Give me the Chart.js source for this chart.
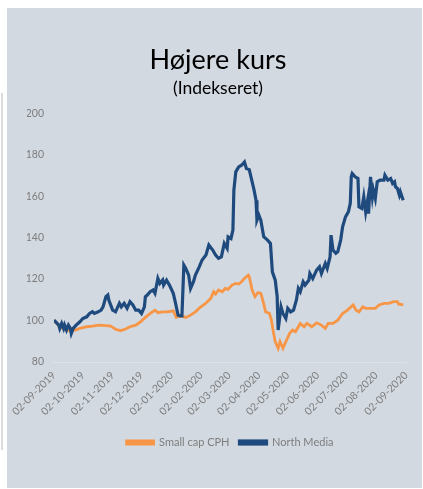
<!DOCTYPE html>
<html lang="da">
<head>
<meta charset="UTF-8">
<title>Højere kurs</title>
<script src="https://cdn.jsdelivr.net/npm/chart.js/dist/chart.umd.min.js"></script>
<style>
body { margin: 0; background: #ffffff; width: 423px; height: 489px; position: relative; overflow: hidden; }
.edge { position: absolute; left: 1px; top: 93px; width: 2px; height: 357px; background: #dcdcdc; }
.panel { position: absolute; left: 7px; top: 8px; width: 415px; height: 480px; background: #d3d9e1; }
canvas { display: block; }
</style>
</head>
<body>
<div class="edge"></div>
<div class="panel"><canvas id="kurs" width="415" height="480"></canvas></div>
<script>
// x = days since 02-09-2019
const tickDays = [0, 30, 61, 91, 122, 153, 182, 213, 243, 274, 304, 335, 366];
const tickLabels = ['02-09-2019', '02-10-2019', '02-11-2019', '02-12-2019', '02-01-2020', '02-02-2020',
  '02-03-2020', '02-04-2020', '02-05-2020', '02-06-2020', '02-07-2020', '02-08-2020', '02-09-2020'];

const smallCapDays = [0, 6, 13, 18, 22, 27, 34, 40, 47, 54, 59, 64, 69, 74, 79, 85, 90, 95, 100, 105,
  108, 113, 118, 124, 127, 132, 137, 142, 147, 152, 157, 163, 166, 168, 171, 175, 178, 181, 185, 189,
  192, 195, 198, 202, 203, 206, 209, 212, 215, 217, 220, 224, 226, 228, 230, 233, 235, 238, 241, 245,
  248, 251, 256, 260, 263, 268, 273, 278, 282, 285, 290, 295, 300, 305, 311, 314, 317, 321, 324, 329,
  334, 338, 343, 348, 353, 357, 358, 363];
const smallCapValues = [100.2, 97, 95.4, 95.1, 95.4, 96.2, 97, 97.3, 97.8, 97.5, 97.3, 95.8, 95.1, 95.8, 97, 97.8, 99.4, 101.5, 103.4, 105,
  103.8, 104.2, 104.2, 104.7, 101.5, 102.2, 101.5, 102.6, 104.2, 106.4, 108, 110.7, 113.9, 112.8, 114.7, 113.9, 115.5, 115, 117.1, 117.9,
  117.6, 118.7, 120.3, 121.9, 121.1, 114.7, 111.5, 113.5, 113.1, 109.9, 104.2, 103.4, 100.2, 94.6, 89.8, 86.6, 89.8, 86.6, 89.8, 93.8,
  95.4, 94.6, 98.6, 97, 98.6, 97, 98.9, 97.8, 96.2, 98.6, 98.6, 100.2, 103.4, 105, 107.5, 105, 104.2, 106.6, 105.9, 105.9,
  105.9, 107.5, 108.3, 108.3, 109.1, 109.1, 108, 107.5];

const northMediaDays = [0, 5, 6, 8, 10, 11, 13, 15, 17, 18, 20, 23, 27, 30, 34, 37, 40, 42, 46, 49,
  51, 54, 56, 57, 61, 64, 68, 70, 73, 76, 79, 82, 85, 88, 91, 94, 95, 97, 100, 103,
  105, 108, 110, 113, 114, 117, 120, 124, 126, 129, 131, 133, 135, 137, 140, 142, 145, 147, 151, 154,
  158, 161, 165, 168, 171, 174, 177, 180, 181, 184, 186, 187, 189, 192, 195, 198, 200, 203, 206, 208,
  210, 211, 213, 215, 218, 222, 225, 227, 230, 232, 233, 236, 238, 241, 243, 246, 249, 252, 254, 256,
  259, 261, 265, 266, 269, 273, 276, 278, 282, 284, 287, 288, 290, 293, 295, 298, 300, 303, 306, 308,
  309, 310, 313, 316, 317, 320, 322, 324, 326, 327, 329, 331, 332, 334, 336, 339, 343, 344, 347, 350,
  352, 354, 355, 357, 359, 360, 363];
const northMediaValues = [100.2, 97.8, 96.2, 98.6, 96.2, 97.8, 95.4, 97.8, 96.2, 93.8, 96.2, 97.8, 99.4, 101, 101.8, 103.4, 104.2, 103.4, 104.2, 105,
  106.6, 111.5, 112.3, 109.9, 105, 104.2, 108.3, 106.6, 108.3, 105.9, 109.1, 107.5, 105, 105, 103.4, 106.6, 111.5, 112.3, 113.9, 114.7,
  113.1, 120.3, 117.9, 119.5, 117.1, 119.5, 117.1, 113.1, 109.1, 102.6, 102.2, 102.2, 126.7, 125.1, 121.9, 115.5, 118.7, 121.9, 125.9, 129.2,
  131.6, 136.4, 134, 131.6, 130, 130.7, 137.2, 134.8, 140.4, 139.6, 143.6, 162.9, 171.7, 174.1, 174.9, 176.5, 173.3, 172.8, 166.9, 162.9,
  158, 148.4, 150.8, 148.4, 140.4, 138.8, 137.2, 123.5, 119.5, 111.5, 95.4, 106.6, 103.4, 101, 105.9, 104.2, 105, 109.9, 115.5, 113.9,
  118.7, 117.1, 119.5, 122.7, 120.3, 124.3, 125.9, 122.7, 127.5, 125.1, 130.7, 141.2, 134, 132.4, 133.2, 138.8, 145.2, 150, 152.4, 156.5,
  169.3, 170.9, 169.3, 168.5, 154.8, 154, 159.7, 152.4, 158, 151.6, 169.3, 159.7, 162.9, 158.9, 166.9, 167.7, 167.7, 170.1, 167.7, 168.5,
  166.1, 166.9, 164.5, 163.7, 160.5, 162.1, 158];

const yMin = 80, yMax = 200, yStep = 20;

const toPoints = (days, vals) => days.map((d, i) => ({ x: d, y: vals[i] }));

const grey = '#7d7d7d';
Chart.defaults.font.family = 'Lato, "Open Sans", sans-serif';

new Chart(document.getElementById('kurs'), {
  type: 'line',
  data: {
    datasets: [{
      label: 'Small cap CPH',
      data: toPoints(smallCapDays, smallCapValues),
      borderColor: '#f79646',
      backgroundColor: '#f79646',
      borderWidth: 2.8,
      pointRadius: 0,
      order: 1
    }, {
      label: 'North Media',
      data: toPoints(northMediaDays, northMediaValues),
      borderColor: '#1f4a7e',
      backgroundColor: '#1f4a7e',
      borderWidth: 3.2,
      pointRadius: 0,
      order: 0
    }]
  },
  options: {
    responsive: false,
    animation: false,
    // left padding shifts the centred title to match; axis width makes up the rest
    layout: { padding: { left: 18, right: 11, top: 0, bottom: 30 } },
    plugins: {
      title: {
        display: true,
        text: 'Højere kurs',
        color: '#000000',
        font: { size: 27, weight: 'normal' },
        padding: { top: 36, bottom: 0 }
      },
      subtitle: {
        display: true,
        text: '(Indekseret)',
        color: '#000000',
        font: { size: 17.5, weight: 'normal' },
        padding: { top: 1.3, bottom: 14.5 }
      },
      legend: {
        position: 'bottom',
        fullSize: false,
        labels: {
          boxWidth: 27,
          boxHeight: 3,
          padding: 10,
          color: grey,
          font: { size: 11 },
          sort: (a, b) => a.datasetIndex - b.datasetIndex
        }
      },
      tooltip: { enabled: false }
    },
    scales: {
      x: {
        type: 'linear',
        min: 0,
        max: 366,
        afterBuildTicks: (scale) => { scale.ticks = tickDays.map(v => ({ value: v })); },
        afterFit: (scale) => { scale.height = 65; },
        ticks: {
          callback: (value, index) => tickLabels[index],
          minRotation: 45,
          maxRotation: 45,
          autoSkip: false,
          padding: 7,
          color: grey,
          font: { size: 10.5 }
        },
        grid: { display: false, drawTicks: false },
        border: { display: true, color: '#dfe2e6', width: 1 }
      },
      y: {
        min: yMin,
        max: yMax,
        afterFit: (scale) => { scale.width = 27; },
        ticks: { stepSize: yStep, padding: 10, color: grey, font: { size: 10.5 } },
        grid: { display: false, drawTicks: false },
        border: { display: false }
      }
    }
  }
});
</script>
</body>
</html>
